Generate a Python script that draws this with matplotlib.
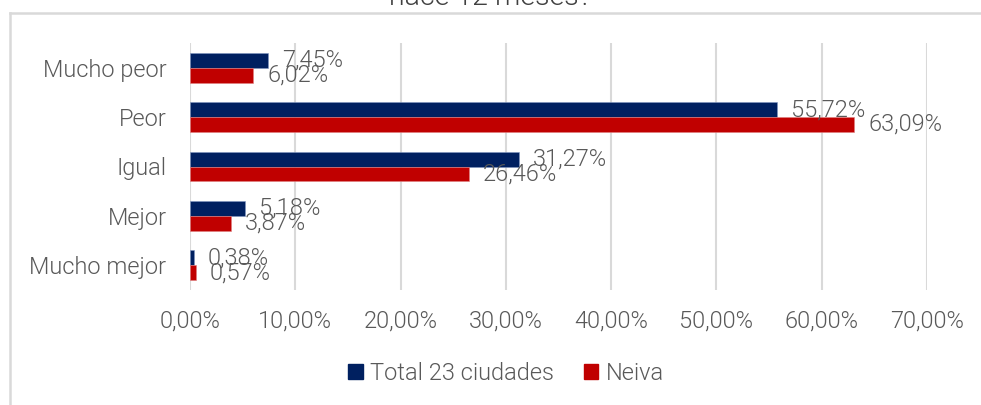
import matplotlib
matplotlib.use("Agg")
import matplotlib.pyplot as plt
from matplotlib.lines import Line2D
from matplotlib.patches import Patch
import numpy as np

categories = ["Mucho peor", "Peor", "Igual", "Mejor", "Mucho mejor"]
total_23 = [7.45, 55.72, 31.27, 5.18, 0.38]
neiva = [6.02, 63.09, 26.46, 3.87, 0.57]
series_names = ["Total 23 ciudades", "Neiva"]
colors = ["#002060", "#C00000"]
xticks = [0, 10, 20, 30, 40, 50, 60, 70]
title = "hace 12 meses?"

plt.rcParams['font.family'] = ['Roboto', 'DejaVu Sans']
txt_color = "#595959"
fs = 17
fw = 300

W, H = 981, 405
fig = plt.figure(figsize=(W/100, H/100), dpi=100)
ax = fig.add_axes([190/W, 1-290/H, (927-190)/W, (290-43)/H])

y = np.arange(len(categories))
bh = 0.30
ax.barh(y - bh/2, total_23, height=bh, color=colors[0], edgecolor="#8096c0", linewidth=0.4, zorder=3)
ax.barh(y + bh/2, neiva, height=bh, color=colors[1], edgecolor="#e08080", linewidth=0.4, zorder=3)

for i in range(len(categories)):
    ax.annotate(f"{total_23[i]:.2f}%".replace(".", ","), (total_23[i], y[i] - bh/2),
                xytext=(14, 0), textcoords="offset pixels", va="center", ha="left",
                fontsize=fs, color=txt_color, fontweight=fw, zorder=4)
    ax.annotate(f"{neiva[i]:.2f}%".replace(".", ","), (neiva[i], y[i] + bh/2),
                xytext=(14, 0), textcoords="offset pixels", va="center", ha="left",
                fontsize=fs, color=txt_color, fontweight=fw, zorder=4)

ax.set_xlim(0, 70)
ax.set_ylim(len(categories) - 0.5, -0.5)
ax.set_xticks(xticks)
ax.set_xticklabels([f"{v:.2f}%".replace(".", ",") for v in xticks], fontsize=fs,
                   color=txt_color, fontweight=fw)
ax.set_yticks(y)
ax.set_yticklabels(categories, fontsize=fs, color=txt_color, fontweight=fw)
ax.tick_params(axis="both", length=0)
ax.tick_params(axis="x", pad=14)
ax.tick_params(axis="y", pad=17)
ax.grid(axis="x", color="#D9D9D9", linewidth=1.5, zorder=0)
for s in ax.spines.values():
    s.set_visible(False)

# chart frame (cropped)
fig.add_artist(Line2D([10/W, 1], [1-13/H, 1-13/H], color="#D9D9D9", linewidth=1.8))
fig.add_artist(Line2D([10/W, 10/W], [0, 1-13/H], color="#D9D9D9", linewidth=1.8))

# title (cut off at top)
fig.text(0.5, 1-5/H, title, ha="center", va="baseline", fontsize=20.5,
         color="#404040", fontweight=fw)

handles = [Patch(color=colors[0]), Patch(color=colors[1])]
leg = fig.legend(handles, series_names, loc="center", bbox_to_anchor=(506/W, 1-373/H),
                 ncol=2, frameon=False, fontsize=fs, handlelength=0.6, handleheight=0.6,
                 handletextpad=0.3, columnspacing=1.3)
for t in leg.get_texts():
    t.set_color(txt_color)
    t.set_fontweight(fw)

fig.savefig("out.png", dpi=100)
